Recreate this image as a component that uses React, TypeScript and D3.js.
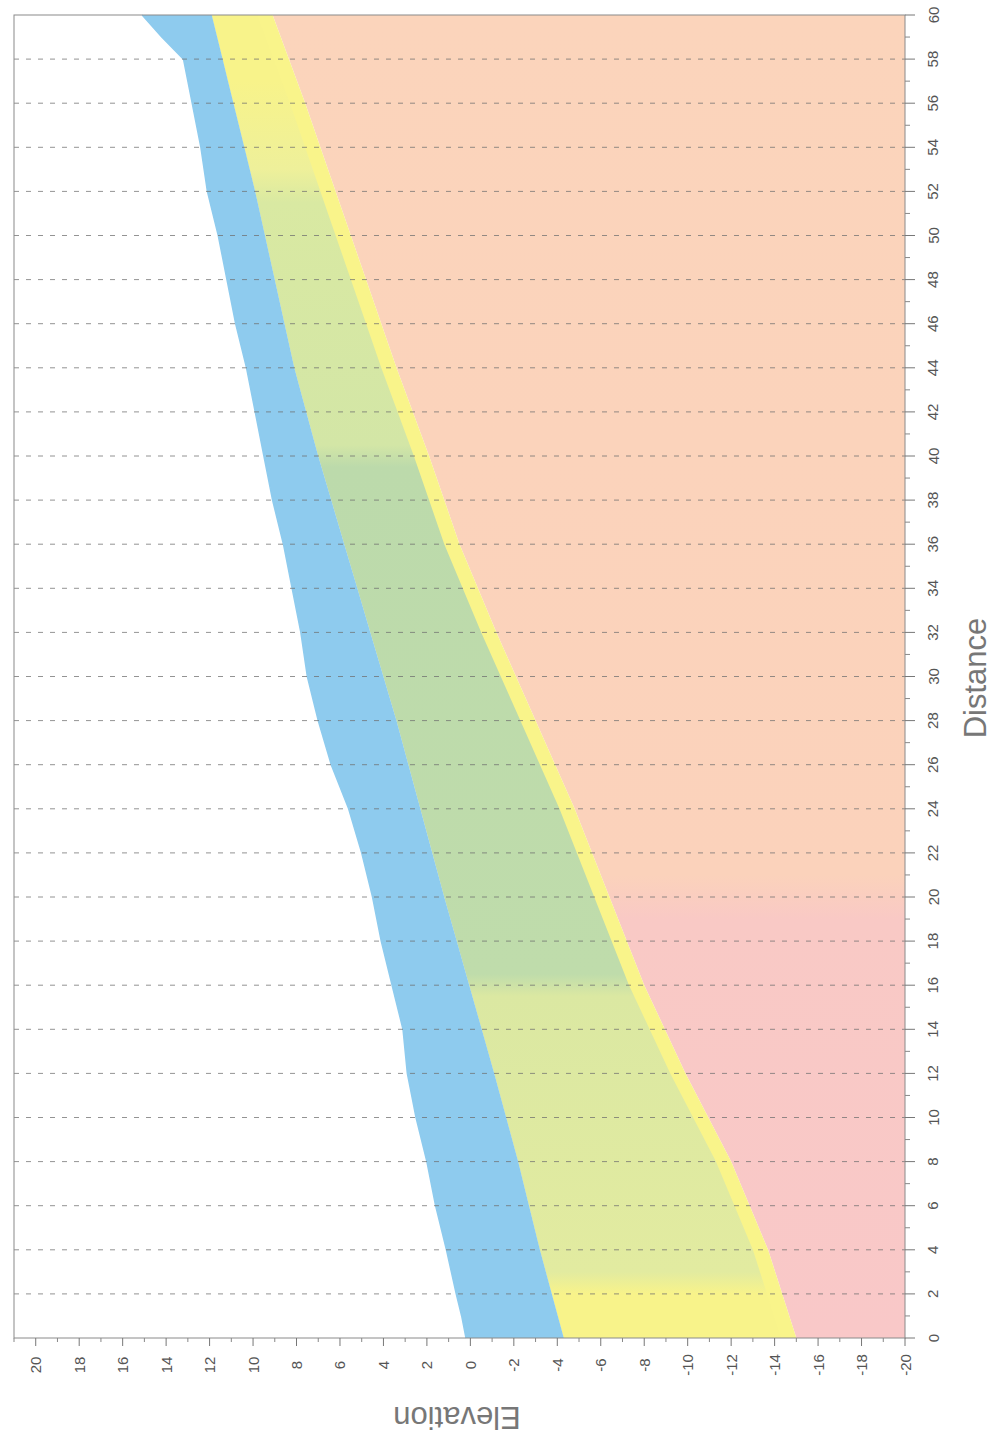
import React from "react";
import * as d3 from "d3";

// Distance along the section (m) and elevation (m) of each boundary
const surfaceDist = [0, 1, 2, 4, 6, 8, 10, 11, 12, 14, 16, 18, 20, 22, 24, 26, 28, 30, 32, 34, 36, 38, 40, 42, 44, 46, 48, 50, 52, 54, 56, 57, 58, 59, 60];
const surfaceElev = [0.2, 0.4, 0.65, 1.1, 1.6, 2.0, 2.5, 2.7, 2.9, 3.1, 3.6, 4.1, 4.5, 5.0, 5.6, 6.4, 7.0, 7.5, 7.8, 8.2, 8.6, 9.1, 9.5, 9.9, 10.3, 10.8, 11.2, 11.6, 12.1, 12.4, 12.8, 13.0, 13.2, 14.2, 15.1];

const layerADist = [0, 4, 8, 12, 16, 20, 24, 28, 32, 36, 40, 44, 48, 52, 56, 60];
const layerAElev = [-4.3, -3.2, -2.2, -1.1, 0.05, 1.2, 2.3, 3.4, 4.6, 5.8, 7.0, 8.1, 9.0, 9.9, 10.9, 11.9];

const layerBDist = [0, 4, 8, 12, 16, 20, 24, 28, 32, 36, 40, 44, 48, 52, 56, 60];
const layerBElev = [-15.0, -13.7, -12.0, -9.9, -8.0, -6.4, -4.8, -3.0, -1.2, 0.5, 1.9, 3.4, 4.8, 6.2, 7.6, 9.1];

// Lower edge of the green zone, just above the base of the yellow layer
const greenBaseElev = [-14.3, -13.0, -11.3, -9.2, -7.3, -5.7, -4.1, -2.3, -0.5, 1.2, 2.6, 4.1, 5.5, 6.9, 8.3, 9.8];

// Colour zones along the distance axis
const greenZoneDist = [0, 2, 3, 15.5, 16.5, 39.5, 40.5, 51.5, 53, 57, 60];
const greenZoneColor = ["#f8f38a", "#f8f38a", "#e2eba0", "#dbe8a2", "#bfdcab", "#bcdaab", "#d3e6a6", "#d9e9a2", "#eef09a", "#f8f38a", "#f8f38a"];

const lowerZoneDist = [0, 19, 21, 60];
const lowerZoneColor = ["#f9c8c8", "#f9c9c5", "#fbd2bb", "#fbd4bb"];

const distanceTicks = d3.range(0, 61, 2);
const distanceMinor = d3.range(1, 60, 2);
const elevationTicks = d3.range(-20, 21, 2);
const elevationMinor = d3.range(-19, 22, 2);

const W = 991;
const H = 1443;
const left = 14;
const right = 905;
const top = 15;
const bottom = 1338;

export default function App() {
  // Chart is drawn turned a quarter turn: elevation runs horizontally, distance vertically
  const ex = d3.scaleLinear().domain([21, -20]).range([left, right]);
  const dy = d3.scaleLinear().domain([0, 60]).range([bottom, top]);

  const zip = (ds: number[], es: number[]) => ds.map((d, i) => ({ d, e: es[i] }));
  const surface = zip(surfaceDist, surfaceElev);
  const baseA = zip(layerADist, layerAElev);
  const baseB = zip(layerBDist, layerBElev);
  const greenB = zip(layerBDist, greenBaseElev);

  const interp = (pts: { d: number; e: number }[]) => (d: number) => {
    for (let i = 0; i < pts.length - 1; i++) {
      if (d >= pts[i].d && d <= pts[i + 1].d) {
        const t = (d - pts[i].d) / (pts[i + 1].d - pts[i].d || 1);
        return pts[i].e + t * (pts[i + 1].e - pts[i].e);
      }
    }
    return pts[pts.length - 1].e;
  };

  const band = (upper: { d: number; e: number }[], lower: { d: number; e: number }[] | null, floor?: number) => {
    const ds = Array.from(new Set([...upper.map((p) => p.d), ...(lower ? lower.map((p) => p.d) : [])])).sort((a, b) => a - b);
    const up = interp(upper);
    const lo = lower ? interp(lower) : () => floor as number;
    return d3
      .area<number>()
      .y((d) => dy(d))
      .x0((d) => ex(up(d)))
      .x1((d) => ex(lo(d)))(ds) as string;
  };

  const blueArea = band(surface, baseA);
  const yellowArea = band(baseA, baseB);
  const greenArea = band(baseA, greenB);
  const lowerArea = band(baseB, null, -20);

  const surfaceLine = d3
    .line<{ d: number; e: number }>()
    .y((p) => dy(p.d))
    .x((p) => ex(p.e))(surface) as string;

  const labelFont = "'Liberation Sans', Arial, sans-serif";

  return (
    <svg width={W} height={H} style={{ position: "absolute", left: 0, top: 0, background: "#fff" }}>
      <defs>
        <linearGradient id="greenZones" gradientUnits="userSpaceOnUse" x1={0} x2={0} y1={dy(0)} y2={dy(60)}>
          {greenZoneDist.map((d, i) => (
            <stop key={i} offset={d / 60} stopColor={greenZoneColor[i]} />
          ))}
        </linearGradient>
        <linearGradient id="lowerZones" gradientUnits="userSpaceOnUse" x1={0} x2={0} y1={dy(0)} y2={dy(60)}>
          {lowerZoneDist.map((d, i) => (
            <stop key={i} offset={d / 60} stopColor={lowerZoneColor[i]} />
          ))}
        </linearGradient>
      </defs>

      <path d={lowerArea} fill="url(#lowerZones)" />
      <path d={yellowArea} fill="#f9f48a" />
      <path d={greenArea} fill="url(#greenZones)" />
      <path d={blueArea} fill="#8ecbee" />
      <path d={surfaceLine} fill="none" stroke="#8ecbee" strokeWidth={1.5} />

      {/* dashed gridlines at each labelled distance */}
      {distanceTicks
        .filter((d) => d > 0 && d < 60)
        .map((d) => (
          <line key={d} x1={left} x2={right} y1={dy(d)} y2={dy(d)} stroke="#6f6f6f" strokeOpacity={0.75} strokeWidth={1} strokeDasharray="5,7" />
        ))}

      {/* frame */}
      <rect x={left} y={top} width={right - left} height={bottom - top} fill="none" stroke="#8a8a8a" strokeWidth={1} />

      {/* elevation axis */}
      {elevationTicks.map((v) => (
        <g key={v}>
          <line x1={ex(v)} x2={ex(v)} y1={bottom} y2={bottom + 8} stroke="#777" />
          <text
            x={ex(v)}
            y={1365}
            transform={`rotate(-90 ${ex(v)} 1365)`}
            textAnchor="middle"
            dominantBaseline="central"
            fontFamily={labelFont}
            fontSize={15}
            fill="#555"
          >
            {v}
          </text>
        </g>
      ))}
      {elevationMinor.map((v) => (
        <line key={v} x1={ex(v)} x2={ex(v)} y1={bottom} y2={bottom + 4} stroke="#888" />
      ))}

      {/* distance axis */}
      {distanceTicks.map((d) => (
        <g key={d}>
          <line x1={right} x2={right + 10} y1={dy(d)} y2={dy(d)} stroke="#777" />
          <text
            x={933}
            y={dy(d)}
            transform={`rotate(-90 933 ${dy(d)})`}
            textAnchor="middle"
            dominantBaseline="central"
            fontFamily={labelFont}
            fontSize={15}
            fill="#555"
          >
            {d}
          </text>
        </g>
      ))}
      {distanceMinor.map((d) => (
        <line key={d} x1={right} x2={right + 5} y1={dy(d)} y2={dy(d)} stroke="#888" />
      ))}

      <text
        x={975}
        y={678}
        transform="rotate(-90 975 678)"
        textAnchor="middle"
        dominantBaseline="central"
        fontFamily={labelFont}
        fontSize={31}
        fill="#777"
      >
        Distance
      </text>
      <text
        x={457}
        y={1417}
        transform="rotate(180 457 1417)"
        textAnchor="middle"
        dominantBaseline="central"
        fontFamily={labelFont}
        fontSize={31}
        fill="#777"
      >
        Elevation
      </text>
    </svg>
  );
}
